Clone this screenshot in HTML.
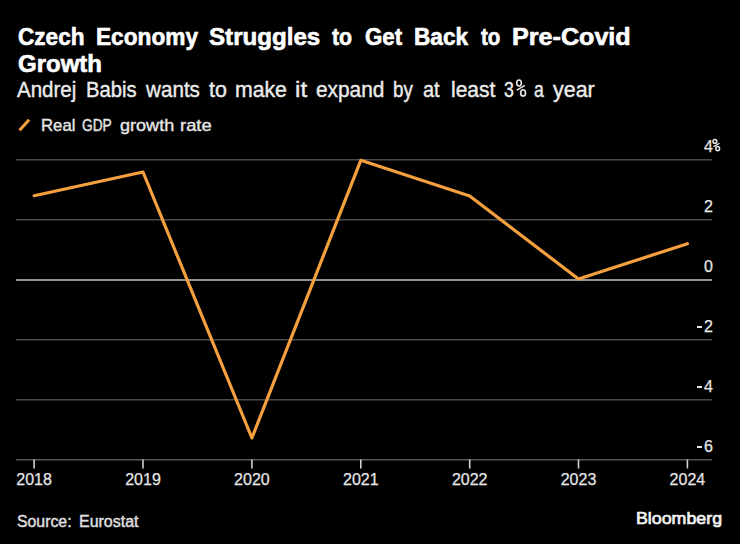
<!DOCTYPE html>
<html>
<head>
<meta charset="utf-8">
<style>
html,body{margin:0;padding:0;background:#000;}
body{width:740px;height:544px;position:relative;overflow:hidden;font-family:"Liberation Sans",sans-serif;color:#fff;}
.w{position:absolute;white-space:pre;line-height:1;transform-origin:0 0;}
.yl{position:absolute;font-size:16px;line-height:1;color:#e6e6e6;white-space:pre;-webkit-text-stroke:0.25px #e6e6e6;}
.xl{position:absolute;font-size:16px;line-height:1;color:#e6e6e6;width:60px;text-align:center;-webkit-text-stroke:0.25px #e6e6e6;}
svg{position:absolute;left:0;top:0;}
</style>
</head>
<body>
<div class="w" style="left:18.00px;top:26.0px;font-size:23px;font-weight:bold;letter-spacing:0.000px;color:#ffffff;transform:scaleX(0.9821);-webkit-text-stroke:0.6px #ffffff;">Czech</div>
<div class="w" style="left:95.51px;top:26.0px;font-size:23px;font-weight:bold;letter-spacing:0.000px;color:#ffffff;transform:scaleX(0.9854);-webkit-text-stroke:0.6px #ffffff;">Economy</div>
<div class="w" style="left:208.90px;top:26.0px;font-size:23px;font-weight:bold;letter-spacing:0.000px;color:#ffffff;transform:scaleX(1.0491);-webkit-text-stroke:0.6px #ffffff;">Struggles</div>
<div class="w" style="left:332.00px;top:26.0px;font-size:23px;font-weight:bold;letter-spacing:0.000px;color:#ffffff;transform:scaleX(0.9273);-webkit-text-stroke:0.6px #ffffff;">to</div>
<div class="w" style="left:364.60px;top:26.0px;font-size:23px;font-weight:bold;letter-spacing:0.000px;color:#ffffff;transform:scaleX(0.9692);-webkit-text-stroke:0.6px #ffffff;">Get</div>
<div class="w" style="left:413.72px;top:26.0px;font-size:23px;font-weight:bold;letter-spacing:0.000px;color:#ffffff;transform:scaleX(0.9836);-webkit-text-stroke:0.6px #ffffff;">Back</div>
<div class="w" style="left:480.90px;top:26.0px;font-size:23px;font-weight:bold;letter-spacing:0.000px;color:#ffffff;transform:scaleX(0.8909);-webkit-text-stroke:0.6px #ffffff;">to</div>
<div class="w" style="left:512.41px;top:26.0px;font-size:23px;font-weight:bold;letter-spacing:0.000px;color:#ffffff;transform:scaleX(1.0925);-webkit-text-stroke:0.6px #ffffff;">Pre-Covid</div>
<div class="w" style="left:18.00px;top:52.5px;font-size:23px;font-weight:bold;letter-spacing:0.000px;color:#ffffff;transform:scaleX(1.0425);-webkit-text-stroke:0.6px #ffffff;">Growth</div>
<div class="w" style="left:17.30px;top:79px;font-size:22px;font-weight:normal;letter-spacing:0.000px;color:#ececec;transform:scaleX(0.9317);-webkit-text-stroke:0.4px #ececec;">Andrej</div>
<div class="w" style="left:85.58px;top:79px;font-size:22px;font-weight:normal;letter-spacing:0.000px;color:#ececec;transform:scaleX(0.9185);-webkit-text-stroke:0.4px #ececec;">Babis</div>
<div class="w" style="left:146.20px;top:79px;font-size:22px;font-weight:normal;letter-spacing:0.000px;color:#ececec;transform:scaleX(0.9386);-webkit-text-stroke:0.4px #ececec;">wants</div>
<div class="w" style="left:208.50px;top:79px;font-size:22px;font-weight:normal;letter-spacing:0.000px;color:#ececec;transform:scaleX(0.9722);-webkit-text-stroke:0.4px #ececec;">to</div>
<div class="w" style="left:234.53px;top:79px;font-size:22px;font-weight:normal;letter-spacing:0.000px;color:#ececec;transform:scaleX(0.9654);-webkit-text-stroke:0.4px #ececec;">make</div>
<div class="w" style="left:294.70px;top:79px;font-size:22px;font-weight:normal;letter-spacing:0.091px;color:#ececec;transform:scaleX(1.1000);-webkit-text-stroke:0.4px #ececec;">it</div>
<div class="w" style="left:315.85px;top:79px;font-size:22px;font-weight:normal;letter-spacing:0.000px;color:#ececec;transform:scaleX(0.9471);-webkit-text-stroke:0.4px #ececec;">expand</div>
<div class="w" style="left:393.05px;top:79px;font-size:22px;font-weight:normal;letter-spacing:0.000px;color:#ececec;transform:scaleX(0.8522);-webkit-text-stroke:0.4px #ececec;">by</div>
<div class="w" style="left:422.69px;top:79px;font-size:22px;font-weight:normal;letter-spacing:0.000px;color:#ececec;transform:scaleX(0.9056);-webkit-text-stroke:0.4px #ececec;">at</div>
<div class="w" style="left:450.55px;top:79px;font-size:22px;font-weight:normal;letter-spacing:0.000px;color:#ececec;transform:scaleX(0.9543);-webkit-text-stroke:0.4px #ececec;">least</div>
<div class="w" style="left:504.09px;top:79px;font-size:22px;font-weight:normal;letter-spacing:0.000px;color:#ececec;transform:scaleX(0.8091);-webkit-text-stroke:0.4px #ececec;">3</div>
<div class="w" style="left:534.05px;top:79px;font-size:22px;font-weight:normal;letter-spacing:0.000px;color:#ececec;transform:scaleX(0.8000);-webkit-text-stroke:0.4px #ececec;">a</div>
<div class="w" style="left:553.10px;top:79px;font-size:22px;font-weight:normal;letter-spacing:0.000px;color:#ececec;transform:scaleX(0.9744);-webkit-text-stroke:0.4px #ececec;">year</div>
<div class="w" style="left:40.72px;top:117px;font-size:17px;font-weight:normal;letter-spacing:0.000px;color:#e6e6e6;transform:scaleX(0.9848);-webkit-text-stroke:0.4px #e6e6e6;">Real</div>
<div class="w" style="left:82.30px;top:117px;font-size:17px;font-weight:normal;letter-spacing:0.000px;color:#e6e6e6;transform:scaleX(0.8083);-webkit-text-stroke:0.4px #e6e6e6;">GDP</div>
<div class="w" style="left:119.50px;top:117px;font-size:17px;font-weight:normal;letter-spacing:0.000px;color:#e6e6e6;transform:scaleX(1.0620);-webkit-text-stroke:0.4px #e6e6e6;">growth</div>
<div class="w" style="left:179.62px;top:117px;font-size:17px;font-weight:normal;letter-spacing:0.000px;color:#e6e6e6;transform:scaleX(1.0821);-webkit-text-stroke:0.4px #e6e6e6;">rate</div>
<div class="w" style="left:17.20px;top:513.5px;font-size:16px;font-weight:normal;letter-spacing:0.000px;color:#e0e0e0;transform:scaleX(0.9889);-webkit-text-stroke:0.4px #e0e0e0;">Source:</div>
<div class="w" style="left:78.70px;top:513.5px;font-size:16px;font-weight:normal;letter-spacing:0.000px;color:#e0e0e0;transform:scaleX(0.9983);-webkit-text-stroke:0.4px #e0e0e0;">Eurostat</div>
<div class="w" style="left:636.15px;top:510px;font-size:17px;font-weight:normal;letter-spacing:0.000px;color:#f2f2f2;transform:scaleX(1.0469);-webkit-text-stroke:0.7px #f2f2f2;">Bloomberg</div>
<svg width="740" height="544" viewBox="0 0 740 544">
  <g stroke="#4a4a4a" stroke-width="1.5" fill="none">
    <line x1="16" y1="159.8" x2="712" y2="159.8"/>
    <line x1="16" y1="219.8" x2="712" y2="219.8"/>
    <line x1="16" y1="339.8" x2="712" y2="339.8"/>
    <line x1="16" y1="399.8" x2="712" y2="399.8"/>
    <line x1="16" y1="459.8" x2="712" y2="459.8" stroke="#555"/>
  </g>
  <line x1="16" y1="279.9" x2="712" y2="279.9" stroke="#c4c4c4" stroke-width="1.5"/>
  <g stroke="#d2d2d2" stroke-width="1.6">
    <line x1="34.1" y1="459.5" x2="34.1" y2="468.5"/>
    <line x1="143" y1="459.5" x2="143" y2="468.5"/>
    <line x1="251.9" y1="459.5" x2="251.9" y2="468.5"/>
    <line x1="360.8" y1="459.5" x2="360.8" y2="468.5"/>
    <line x1="469.7" y1="459.5" x2="469.7" y2="468.5"/>
    <line x1="578.5" y1="459.5" x2="578.5" y2="468.5"/>
    <line x1="687.4" y1="459.5" x2="687.4" y2="468.5"/>
  </g>
  <line x1="19.6" y1="130.3" x2="29.1" y2="119.8" stroke="#f5a03e" stroke-width="3.1"/>
  <polyline points="34.1,195.7 143,172 251.9,438 360.8,160.3 469.7,196.1 578.5,279 687.4,243.7" fill="none" stroke="#f5a03e" stroke-width="3.2" stroke-linejoin="round" stroke-linecap="round"/>
  <g fill="none" stroke="#e6e6e6" stroke-width="1.5">
    <ellipse cx="714.9" cy="141.4" rx="1.9" ry="1.9"/>
    <ellipse cx="717.7" cy="148.6" rx="1.9" ry="2.1"/>
    <line x1="713.4" y1="146.6" x2="719.6" y2="143.2" stroke-width="1.3"/>
  </g>
  <g fill="none" stroke="#ececec" stroke-width="1.6">
    <ellipse cx="519.05" cy="83" rx="2.3" ry="3.0"/>
    <ellipse cx="523.1" cy="92.9" rx="2.4" ry="3.1"/>
    <line x1="516.8" y1="90.1" x2="524.9" y2="85.4" stroke-width="1.5"/>
  </g>
</svg>

<div class="yl" style="left:704px;top:138.7px;">4</div>
<div class="yl" style="right:27px;top:198.7px;">2</div>
<div class="yl" style="right:27px;top:258.7px;">0</div>
<div class="yl" style="right:27px;top:318.7px;">2</div>
<div style="position:absolute;left:697px;top:326px;width:4.9px;height:1.8px;background:#e6e6e6;"></div>
<div class="yl" style="right:27px;top:378.7px;">4</div>
<div style="position:absolute;left:697px;top:386px;width:4.9px;height:1.8px;background:#e6e6e6;"></div>
<div class="yl" style="right:27px;top:438.7px;">6</div>
<div style="position:absolute;left:697px;top:446px;width:4.9px;height:1.8px;background:#e6e6e6;"></div>
<div class="xl" style="left:4.1px;top:472px;">2018</div>
<div class="xl" style="left:113.0px;top:472px;">2019</div>
<div class="xl" style="left:221.9px;top:472px;">2020</div>
<div class="xl" style="left:330.8px;top:472px;">2021</div>
<div class="xl" style="left:439.7px;top:472px;">2022</div>
<div class="xl" style="left:548.5px;top:472px;">2023</div>
<div class="xl" style="left:657.4px;top:472px;">2024</div>

</body>
</html>
